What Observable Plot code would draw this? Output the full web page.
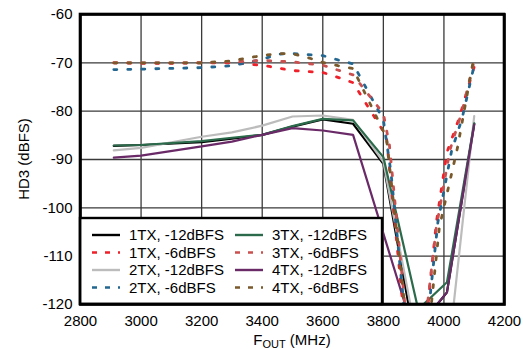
<!DOCTYPE html>
<html><head><meta charset="utf-8">
<script src="https://cdn.jsdelivr.net/npm/d3@7"></script>
<script src="https://cdn.jsdelivr.net/npm/@observablehq/plot@0.6"></script>
<style>body{margin:0;background:#fff;} svg{display:block}</style>
</head><body><div id="chart"></div>
<script>
// Axis ticks
const xTicks = [2800, 3000, 3200, 3400, 3600, 3800, 4000, 4200];
const yTicks = [-60, -70, -80, -90, -100, -110, -120];

// Series: 1TX, -12dBFS (solid black)
const tx1_12_f = [2910, 3000, 3200, 3300, 3400, 3500, 3600, 3700, 3800, 3900, 4010, 4100];
const tx1_12_v = [-87.2, -87.0, -86.4, -85.7, -84.9, -83.2, -81.7, -82.6, -90.9, -126, -117.5, -82.6];
// 2TX, -12dBFS (solid grey)
const tx2_12_f = [2910, 3000, 3200, 3300, 3400, 3500, 3600, 3700, 3800, 3980, 4100];
const tx2_12_v = [-88.1, -87.6, -85.3, -84.4, -83.0, -81.1, -80.9, -81.8, -90.5, -150, -81.0];
// 3TX, -12dBFS (solid green)
const tx3_12_f = [2910, 3000, 3200, 3300, 3400, 3500, 3600, 3700, 3800, 3915, 4010, 4100];
const tx3_12_v = [-87.1, -87.0, -86.2, -85.5, -84.9, -83.1, -81.6, -81.9, -89.5, -121, -115.4, -82.5];
// 4TX, -12dBFS (solid purple)
const tx4_12_f = [2910, 3000, 3200, 3300, 3400, 3500, 3600, 3700, 3900, 4010, 4100];
const tx4_12_v = [-89.6, -89.2, -87.3, -86.3, -84.9, -83.5, -84.0, -84.9, -125.7, -117.5, -82.8];
// 1TX, -6dBFS (dashed red)
const tx1_6_f = [2910, 3000, 3100, 3200, 3300, 3400, 3500, 3600, 3650, 3700, 3810, 3905, 3975, 4010, 4050, 4100];
const tx1_6_v = [-70.0, -70.1, -70.1, -70.0, -70.0, -70.5, -71.6, -72.0, -73.0, -74.1, -85.2, -146, -103, -88.5, -81.5, -70.8];
// 2TX, -6dBFS (dashed blue)
const tx2_6_f = [2910, 3000, 3200, 3300, 3400, 3450, 3500, 3550, 3600, 3650, 3700, 3800, 3825, 3908, 3980, 4025, 4060, 4100];
const tx2_6_v = [-71.4, -71.3, -71.0, -70.6, -69.3, -68.2, -68.1, -68.3, -68.5, -69.4, -70.2, -81.8, -92.6, -146, -103, -88.3, -81.5, -70.5];
// 3TX, -6dBFS (dashed rose)
const tx3_6_f = [2910, 3000, 3200, 3300, 3400, 3500, 3600, 3700, 3800, 3820, 3905, 3975, 4020, 4060, 4100];
const tx3_6_v = [-70.0, -70.0, -70.0, -69.8, -69.5, -69.8, -70.5, -72.5, -80.5, -87.0, -142, -104, -88.0, -80.0, -69.5];
// 4TX, -6dBFS (dashed brown)
const tx4_6_f = [2910, 3000, 3200, 3300, 3350, 3400, 3450, 3500, 3550, 3600, 3650, 3700, 3810, 3915, 3985, 4045, 4100];
const tx4_6_v = [-70.0, -70.0, -70.0, -69.6, -69.0, -68.5, -68.1, -68.1, -68.9, -69.9, -70.6, -71.2, -85.4, -146, -104, -87.5, -68.5];

const seriesNames = ["1TX, -12dBFS", "1TX, -6dBFS", "2TX, -12dBFS", "2TX, -6dBFS",
                     "3TX, -12dBFS", "3TX, -6dBFS", "4TX, -12dBFS", "4TX, -6dBFS"];
const seriesF = [tx1_12_f, tx1_6_f, tx2_12_f, tx2_6_f, tx3_12_f, tx3_6_f, tx4_12_f, tx4_6_f];
const seriesV = [tx1_12_v, tx1_6_v, tx2_12_v, tx2_6_v, tx3_12_v, tx3_6_v, tx4_12_v, tx4_6_v];
const seriesColors = ["#000000", "#f0202a", "#bcbcbc", "#23668f", "#2b6b4b", "#c9504f", "#6a2a68", "#7a5a2c"];
const seriesDashed = [false, true, false, true, false, true, false, true];

const DASH = "3,11";

const tables = seriesNames.map((name, i) =>
  seriesF[i].map((f, j) => ({series: name, f, v: seriesV[i][j]})));

// draw solid first, then dashed
const order = [0, 2, 4, 6, 1, 3, 5, 7];
const lineMarks = order.map(i => Plot.line(tables[i], {
  x: "f", y: "v", stroke: seriesColors[i],
  strokeWidth: seriesDashed[i] ? 2.8 : 2.2,
  strokeDasharray: seriesDashed[i] ? DASH : null,
  strokeLinejoin: "miter",
  clip: true
}));

const plot = Plot.plot({
  width: 523, height: 349,
  marginLeft: 80, marginRight: 19, marginTop: 14, marginBottom: 45,
  style: {fontFamily: "'Liberation Sans', Arial, sans-serif", fontSize: "15px", color: "#000", background: "#fff"},
  x: {domain: [2800, 4200]},
  y: {domain: [-120, -60]},
  marks: [
    Plot.gridX(xTicks.slice(1, -1), {stroke: "#3a3a3a", strokeOpacity: 1, strokeWidth: 1.3}),
    Plot.gridY(yTicks.slice(1, -1), {stroke: "#3a3a3a", strokeOpacity: 1, strokeWidth: 1.3}),
    ...lineMarks,
    Plot.axisX(xTicks, {tickSize: 0, tickPadding: 11, label: null, fontSize: 15, tickFormat: d => String(d)}),
    Plot.axisY(yTicks, {tickSize: 0, tickPadding: 8, label: null, fontSize: 15, tickFormat: d => String(d)}),
    Plot.frame({stroke: "#000", strokeWidth: 2.6})
  ]
});

const svg = d3.select(plot);
const font = "'Liberation Sans', Arial, sans-serif";

// Legend box (layout)
const lg = svg.append("g").attr("text-anchor", "start");
lg.append("rect").attr("x", 80).attr("y", 218).attr("width", 302).attr("height", 86)
  .attr("fill", "#fff").attr("stroke", "#000").attr("stroke-width", 2.4);
const rowY = [235, 252.5, 270, 287.5];
const colX = [92, 235];
seriesNames.forEach((name, i) => {
  const col = Math.floor(i / 4), row = i % 4;
  const x0 = colX[col];
  lg.append("line").attr("x1", x0).attr("x2", x0 + 28).attr("y1", rowY[row]).attr("y2", rowY[row])
    .attr("stroke", seriesColors[i]).attr("stroke-width", seriesDashed[i] ? 2.6 : 2.4)
    .attr("stroke-dasharray", seriesDashed[i] ? "5,8" : null);
  lg.append("text").attr("x", x0 + 37).attr("y", rowY[row]).attr("dy", "0.36em")
    .attr("text-anchor", "start")
    .attr("font-family", font).attr("font-size", 15).attr("fill", "#000").text(name);
});
// Redraw frame edge on top
svg.append("rect").attr("x", 80).attr("y", 14).attr("width", 424).attr("height", 290)
  .attr("fill", "none").attr("stroke", "#000").attr("stroke-width", 2.6);

// Axis titles
const xl = svg.append("text").attr("x", 292).attr("y", 345).attr("text-anchor", "middle")
  .attr("font-family", font).attr("font-size", 15).attr("fill", "#000");
xl.append("tspan").text("F");
xl.append("tspan").attr("font-size", 11).attr("dy", 3).text("OUT");
xl.append("tspan").attr("dy", -3).text(" (MHz)");

svg.append("text").attr("transform", "translate(29,159) rotate(-90)").attr("text-anchor", "middle")
  .attr("font-family", font).attr("font-size", 15).attr("fill", "#000").text("HD3 (dBFS)");

document.getElementById("chart").appendChild(plot);
</script>
</body></html>
